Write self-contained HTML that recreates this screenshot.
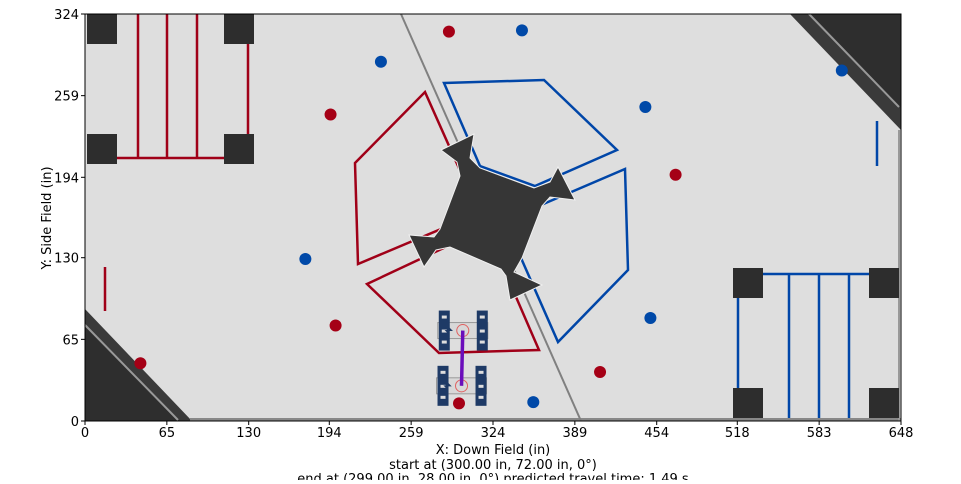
<!DOCTYPE html>
<html><head><meta charset="utf-8"><style>
body{margin:0;background:#fff;width:961px;height:480px;overflow:hidden;font-family:"DejaVu Sans","Liberation Sans",sans-serif}
svg text{font-family:"DejaVu Sans","Liberation Sans",sans-serif;font-size:13px;fill:#000}
</style></head><body>
<svg id="c" width="961" height="480" xmlns="http://www.w3.org/2000/svg">
<g>
<rect x="85" y="14" width="816" height="407" fill="#dedede"/>
<polygon points="790,14 901,14 901,130" fill="#3a3a3a"/>
<polygon points="810,14 901,14 901,108" fill="#2e2e2e"/>
<line x1="809" y1="14" x2="899" y2="107" stroke="#999" stroke-width="2"/>
<polygon points="85,309 192,421 85,421" fill="#3a3a3a"/>
<polygon points="85,326 178,421 85,421" fill="#2e2e2e"/>
<line x1="85" y1="325" x2="178" y2="420" stroke="#999" stroke-width="2"/>
<rect x="190" y="418" width="711" height="3" fill="#888"/>
<line x1="899" y1="130" x2="899" y2="421" stroke="#999" stroke-width="2"/>
<line x1="401" y1="14" x2="581" y2="421" stroke="#808080" stroke-width="2"/>
<g fill="#2d2d2d">
<rect x="87" y="14" width="30" height="30"/><rect x="224" y="14" width="30" height="30"/>
<rect x="87" y="134" width="30" height="30"/><rect x="224" y="134" width="30" height="30"/></g>
<g fill="#2d2d2d">
<rect x="733" y="268" width="30" height="30"/><rect x="869" y="268" width="30" height="30"/>
<rect x="733" y="388" width="30" height="30"/><rect x="869" y="388" width="30" height="30"/></g>
<g stroke="#a00018" stroke-width="2.5" fill="none">
<line x1="138" y1="14" x2="138" y2="158"/><line x1="167" y1="14" x2="167" y2="158"/><line x1="197" y1="14" x2="197" y2="158"/>
<line x1="248" y1="44" x2="248" y2="134"/><line x1="117" y1="158" x2="224" y2="158"/>
<line x1="105" y1="267" x2="105" y2="311"/>
<polygon points="425,92 462,175 441,229 358,264 355,163"/>
<polygon points="367,284 450,245 503,267 539,350 439,353"/></g>
<g stroke="#0046a8" stroke-width="2.5" fill="none">
<line x1="763" y1="274" x2="869" y2="274"/><line x1="789" y1="274" x2="789" y2="418"/><line x1="819" y1="274" x2="819" y2="418"/><line x1="849" y1="274" x2="849" y2="418"/>
<line x1="738" y1="298" x2="738" y2="388"/><line x1="877" y1="121" x2="877" y2="166"/>
<polygon points="444,83 544,80 617,150 535,186 480,166"/>
<polygon points="541,205 625,169 628,270 558,342 521,258"/></g>
<polygon fill="#363636" stroke="#f0f0f0" stroke-width="1" points="441,150 474,134 470,158 480,168 534,188 550,182 558,167 575,200 550,197 542,206 522,258 514,272 542,285 510,300 506,276 501,269 450,247 436,250 424,267 409,235 434,237 440,229 460,176 457,162"/>
</g>
<g id="robots"></g>
<g id="balls"></g>
<rect x="85" y="14" width="816" height="407" fill="none" stroke="#000" stroke-width="1"/>
<g id="axes"></g>
<text x="493" y="454" text-anchor="middle">X: Down Field (in)</text>
<text x="493" y="469" text-anchor="middle">start at (300.00 in, 72.00 in, 0°)</text>
<text x="493" y="483" text-anchor="middle">end at (299.00 in, 28.00 in, 0°) predicted travel time: 1.49 s</text>
<text transform="translate(51,218) rotate(-90)" text-anchor="middle">Y: Side Field (in)</text>
</svg>
<script>
const xTicks=[0,65,130,194,259,324,389,454,518,583,648];
const yTicks=[0,65,130,194,259,324];
const redBallX=[289,195,469,199,44,409,297];
const redBallY=[310,244,196,76,46,39,14];
const blueBallX=[347,235,445,601,175,449,356];
const blueBallY=[311,286,250,279,129,82,15];
const robotX=[300,299];
const robotY=[72,28];
const X=v=>85+v*816/648, Y=v=>421-v*407/324;
const NS="http://www.w3.org/2000/svg";
function mk(t,a,p){const e=document.createElementNS(NS,t);for(const k in a)e.setAttribute(k,a[k]);p.appendChild(e);return e;}
const ax=document.getElementById('axes');
xTicks.forEach(v=>{mk('line',{x1:X(v),x2:X(v),y1:421,y2:425,stroke:'#000'},ax);
const t=mk('text',{x:X(v),y:437,'text-anchor':'middle'},ax);t.textContent=v;

});
yTicks.forEach(v=>{mk('line',{x1:81,x2:85,y1:Y(v),y2:Y(v),stroke:'#000'},ax);
const t=mk('text',{x:79,y:Y(v)+5,'text-anchor':'end'},ax);t.textContent=v;

});
const rb=document.getElementById('robots');
robotX.forEach((v,i)=>{const cx=X(v),cy=Y(robotY[i]);const g=mk('g',{},rb);


mk('rect',{x:cx-25,y:cy-8,width:50,height:16,fill:'#d8d8d8',stroke:'#999','stroke-width':1},g);
[[-24],[14]].forEach(([dx])=>{mk('rect',{x:cx+dx,y:cy-20,width:11,height:40,fill:'#1e3a66'},g);
[-14,0,11].forEach(dy=>mk('rect',{x:cx+dx+3,y:cy+dy-1,width:5,height:3,fill:'#ddd'},g));});
mk('path',{d:`M${cx-17} ${cy}h6l-3 -3v6z`,fill:'#1e3a66',stroke:'#1e3a66'},g);
mk('circle',{cx:cx,cy:cy,r:6,fill:'none',stroke:'#e06060','stroke-width':1},g);});
const p=mk('line',{x1:X(robotX[0]),y1:Y(robotY[0]),x2:X(robotX[1]),y2:Y(robotY[1]),stroke:'#6a0dbb','stroke-width':3.5},rb);


const bl=document.getElementById('balls');
redBallX.forEach((v,i)=>{const c=mk('circle',{cx:X(v),cy:Y(redBallY[i]),r:6,fill:'#a50016'},bl);

});
blueBallX.forEach((v,i)=>{const c=mk('circle',{cx:X(v),cy:Y(blueBallY[i]),r:6,fill:'#0049a8'},bl);

});
</script>
</body></html>
